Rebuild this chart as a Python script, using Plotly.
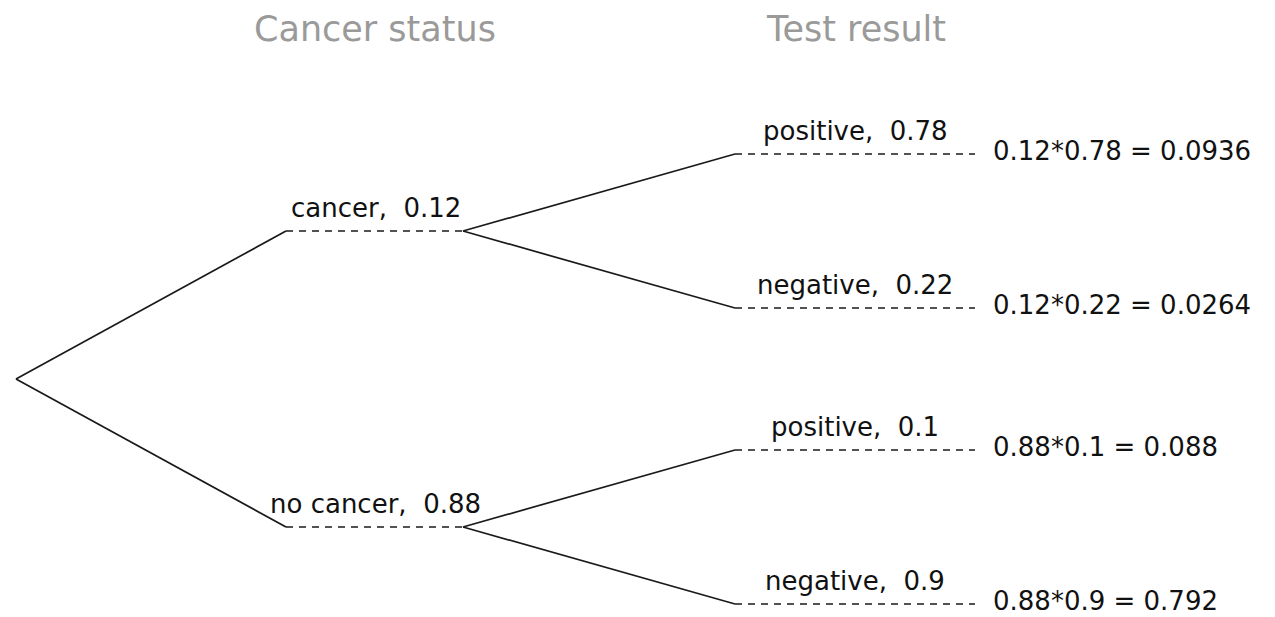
import plotly.graph_objects as go

# ---- data ----
headers = ["Cancer status", "Test result"]
status = ["cancer", "no cancer"]
p_status = [0.12, 0.88]
test = ["positive", "negative"]
p_test_given_status = [[0.78, 0.22], [0.1, 0.9]]

# ---- layout constants (pixels in a 1275x617 canvas) ----
W, H = 1275, 617
X_ROOT = 16
X1_START, X1_END = 286, 463
X2_START, X2_END = 735, 975
X_RES = 991
LEAF_Y = [[154, 308], [450, 604]]
FONT = "DejaVu Sans, Liberation Sans, Arial, sans-serif"
LINE = dict(color="#1a1a1a", width=1.7)
DASH = dict(color="#1a1a1a", width=1.6, dash="7px,6px")
LABEL_SIZE = 26
RES_SIZE = 26
HEAD_SIZE = 35

fig = go.Figure()
ann = []

def fmt(v):
    return f"{v:g}"

node1_y = [(a + b) / 2 for a, b in LEAF_Y]
root_y = sum(node1_y) / 2

for i, s in enumerate(status):
    y1 = node1_y[i]
    fig.add_trace(go.Scatter(x=[X_ROOT, X1_START], y=[root_y, y1], mode="lines", line=LINE, hoverinfo="skip"))
    fig.add_trace(go.Scatter(x=[X1_START, X1_END], y=[y1, y1], mode="lines", line=DASH, hoverinfo="skip"))
    ann.append(dict(x=(X1_START + X1_END) / 2 + 1, y=y1 - 6, text=f"{s},\u00a0 {fmt(p_status[i])}",
                    xanchor="center", yanchor="bottom", showarrow=False,
                    font=dict(size=LABEL_SIZE, color="#111", family=FONT)))
    for j, t in enumerate(test):
        y2 = LEAF_Y[i][j]
        p = p_test_given_status[i][j]
        fig.add_trace(go.Scatter(x=[X1_END, X2_START], y=[y1, y2], mode="lines", line=LINE, hoverinfo="skip"))
        fig.add_trace(go.Scatter(x=[X2_START, X2_END], y=[y2, y2], mode="lines", line=DASH, hoverinfo="skip"))
        ann.append(dict(x=(X2_START + X2_END) / 2, y=y2 - 6, text=f"{t},\u00a0 {fmt(p)}",
                        xanchor="center", yanchor="bottom", showarrow=False,
                        font=dict(size=LABEL_SIZE, color="#111", family=FONT)))
        joint = round(p_status[i] * p, 6)
        ann.append(dict(x=X_RES, y=y2 - 3, text=f"{fmt(p_status[i])}*{fmt(p)} = {fmt(joint)}",
                        xanchor="left", yanchor="middle", showarrow=False,
                        font=dict(size=RES_SIZE, color="#111", family=FONT)))

for k, h in enumerate(headers):
    xc = [(X1_START + X1_END) / 2, (X2_START + X2_END) / 2 + 1][k]
    ann.append(dict(x=xc, y=51, text=h, xanchor="center", yanchor="bottom", showarrow=False,
                    font=dict(size=HEAD_SIZE, color="#9a9a9a", family=FONT)))

fig.update_layout(
    width=W, height=H, margin=dict(l=0, r=0, t=0, b=0),
    paper_bgcolor="white", plot_bgcolor="white", showlegend=False,
    xaxis=dict(range=[0, W], visible=False, fixedrange=True),
    yaxis=dict(range=[H, 0], visible=False, fixedrange=True),
    annotations=ann,
)
fig.write_html("out.html", config={"displayModeBar": False},
               post_script="document.body.style.margin='0';")
